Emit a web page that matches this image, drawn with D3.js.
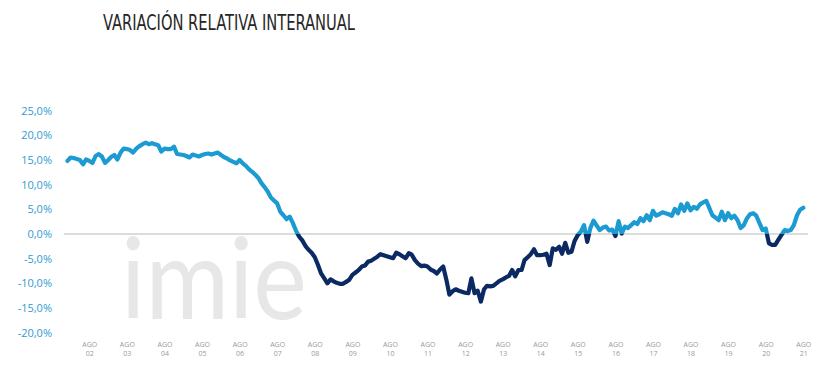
<!DOCTYPE html>
<html>
<head>
<meta charset="utf-8">
<script src="https://cdn.jsdelivr.net/npm/d3@7"></script>
<style>
  html, body { margin: 0; padding: 0; background: #fff; }
  svg { display: block; }
</style>
</head>
<body>
<svg id="chart" width="834" height="383"></svg>
<script>
// ---- DATA ----
const titleText = "VARIACIÓN RELATIVA INTERANUAL";
const startYear = 2002;   // first value = January 2002, monthly
const yoyChange = [
  // 2002
  14.8, 15.5, 15.4, 15.2, 15.0, 14.1, 15.1, 14.8, 14.4, 15.8, 16.2, 15.7,
  // 2003
  14.4, 15.0, 15.6, 16.0, 15.1, 16.5, 17.3, 17.2, 17.0, 16.5, 17.3, 17.8,
  // 2004
  18.2, 18.5, 18.2, 18.4, 18.2, 18.0, 16.7, 17.3, 17.2, 17.2, 17.7, 16.2,
  // 2005
  16.1, 16.0, 15.8, 15.5, 16.1, 15.9, 15.7, 16.0, 16.2, 16.3, 16.1, 16.3,
  // 2006
  16.5, 16.0, 15.6, 15.3, 14.9, 14.6, 14.3, 15.0, 14.3, 13.8, 13.1, 12.6,
  // 2007
  12.0, 11.3, 10.3, 9.5, 8.6, 7.4, 6.8, 6.2, 4.5, 3.8, 3.0, 3.5,
  // 2008
  2.2, 0.6, -0.5, -1.3, -2.4, -3.2, -3.8, -4.7, -6.3, -8.0, -9.0, -10.0,
  // 2009
  -9.2, -9.6, -9.9, -10.1, -10.1, -9.7, -9.3, -8.3, -7.8, -7.3, -6.6, -6.4,
  // 2010
  -5.6, -5.4, -5.0, -4.6, -4.1, -4.3, -4.5, -4.7, -4.9, -3.8, -4.1, -4.5,
  // 2011
  -4.9, -3.9, -4.2, -5.3, -6.0, -6.5, -6.4, -6.6, -7.2, -7.5, -8.0, -7.2,
  // 2012
  -6.6, -9.3, -12.3, -11.6, -11.2, -11.5, -11.7, -11.9, -12.0, -9.0, -12.0, -11.5,
  // 2013
  -13.7, -11.2, -10.5, -10.6, -10.5, -10.0, -9.5, -9.2, -8.8, -8.5, -7.3, -8.6,
  // 2014
  -7.3, -7.3, -5.3, -4.7, -4.1, -3.1, -4.3, -4.3, -4.2, -4.0, -6.3, -2.9,
  // 2015
  -3.2, -2.6, -4.0, -1.8, -3.8, -3.6, -1.4, -0.2, 0.5, 1.8, -1.6, 1.2,
  // 2016
  2.7, 1.7, 0.8, 1.3, 1.5, 0.7, 0.9, -0.4, 2.6, 0.1, 1.5, 1.2,
  // 2017
  1.8, 2.4, 2.0, 3.2, 2.6, 3.8, 2.8, 4.7, 3.7, 4.0, 4.4, 4.2,
  // 2018
  4.0, 3.7, 5.1, 4.2, 6.0, 4.7, 6.2, 4.8, 5.5, 5.1, 6.0, 6.4,
  // 2019
  6.7, 5.2, 3.8, 3.3, 2.8, 4.5, 2.8, 4.2, 3.2, 3.7, 2.8, 1.2,
  // 2020
  1.8, 3.2, 4.0, 4.2, 3.7, 2.2, 0.8, 1.1, -1.9, -2.2, -2.2, -1.2,
  // 2021
  -0.2, 0.8, 0.6, 0.8, 1.8, 3.8, 4.9, 5.3
];
const tickYears = [2002, 2003, 2004, 2005, 2006, 2007, 2008, 2009, 2010, 2011,
                   2012, 2013, 2014, 2015, 2016, 2017, 2018, 2019, 2020, 2021];
const tickMonthLabel = "AGO";
const yTicks = [-20, -15, -10, -5, 0, 5, 10, 15, 20, 25];
const watermarkText = "imie";

// ---- CHART ----
const svg = d3.select("#chart");
const lightBlue = "#1b9bd1";
const darkBlue = "#0b2a63";

const data = yoyChange.map((v, i) => ({ date: new Date(startYear, i, 1), value: v }));

const x = d3.scaleTime()
  .domain([new Date(2002, 7, 1), new Date(2021, 7, 1)])
  .range([89.3, 803.3]);
const y = d3.scaleLinear()
  .domain([-20, 25])
  .range([332.7, 110.6]);

// Title
svg.append("text")
  .attr("x", 103).attr("y", 29.5)
  .attr("font-family", "'Liberation Sans Narrow', 'DejaVu Sans Condensed', 'Roboto', sans-serif")
  .attr("font-size", 22)
  .attr("fill", "#262626")
  .attr("textLength", 252)
  .attr("lengthAdjust", "spacingAndGlyphs")
  .text(titleText);

// Watermark (clipped so it stays above the axis labels)
const defs = svg.append("defs");
defs.append("clipPath").attr("id", "wm")
  .append("rect").attr("x", 100).attr("y", 220).attr("width", 240).attr("height", 102);
svg.append("g").attr("clip-path", "url(#wm)")
  .append("text")
  .attr("x", 121).attr("y", 319)
  .attr("font-family", "Lato, 'Open Sans', sans-serif")
  .attr("font-weight", 400)
  .attr("font-size", 112)
  .attr("fill", "#e7e7e7")
  .attr("textLength", 186)
  .attr("lengthAdjust", "spacingAndGlyphs")
  .text(watermarkText);

// Y axis labels
const yAxis = d3.axisLeft(y)
  .tickValues(yTicks)
  .tickSize(0)
  .tickPadding(0)
  .tickFormat(d => d3.format(".1f")(d).replace(".", ",").replace("−", "-") + "%");
const gy = svg.append("g").attr("transform", "translate(52,0)").call(yAxis);
gy.select(".domain").remove();
gy.selectAll("text")
  .attr("font-family", "'Open Sans', sans-serif")
  .attr("font-size", 11)
  .attr("fill", "#2e9bd2");

// Zero line
svg.append("line")
  .attr("x1", 64).attr("x2", 808)
  .attr("y1", y(0)).attr("y2", y(0))
  .attr("stroke", "#dcdcdc")
  .attr("stroke-width", 2);

// X axis labels
const xAxis = d3.axisBottom(x)
  .tickValues(tickYears.map(yr => new Date(yr, 7, 1)))
  .tickSize(0)
  .tickFormat(() => "");
const gx = svg.append("g").attr("transform", "translate(0,340)").call(xAxis);
gx.select(".domain").remove();
gx.selectAll(".tick").each(function(d) {
  const t = d3.select(this);
  t.select("text").remove();
  const yr = String(d.getFullYear()).slice(2);
  t.append("text").attr("y", 7).attr("text-anchor", "middle")
    .attr("font-family", "'Open Sans', sans-serif").attr("font-size", 7)
    .attr("fill", "#9a9a9a").text(tickMonthLabel);
  t.append("text").attr("y", 16).attr("text-anchor", "middle")
    .attr("font-family", "'Open Sans', sans-serif").attr("font-size", 7)
    .attr("fill", "#9a9a9a").text(yr);
});

// Clip paths: above / below zero
defs.append("clipPath").attr("id", "above")
  .append("rect").attr("x", 0).attr("y", 0).attr("width", 834).attr("height", y(0));
defs.append("clipPath").attr("id", "below")
  .append("rect").attr("x", 0).attr("y", y(0)).attr("width", 834).attr("height", 383 - y(0));

const line = d3.line()
  .x(d => x(d.date))
  .y(d => y(d.value));

svg.append("path")
  .datum(data)
  .attr("clip-path", "url(#above)")
  .attr("d", line)
  .attr("fill", "none")
  .attr("stroke", lightBlue)
  .attr("stroke-width", 4.2)
  .attr("stroke-linejoin", "round")
  .attr("stroke-linecap", "round");

svg.append("path")
  .datum(data)
  .attr("clip-path", "url(#below)")
  .attr("d", line)
  .attr("fill", "none")
  .attr("stroke", darkBlue)
  .attr("stroke-width", 4.2)
  .attr("stroke-linejoin", "round")
  .attr("stroke-linecap", "round");
</script>
</body>
</html>
